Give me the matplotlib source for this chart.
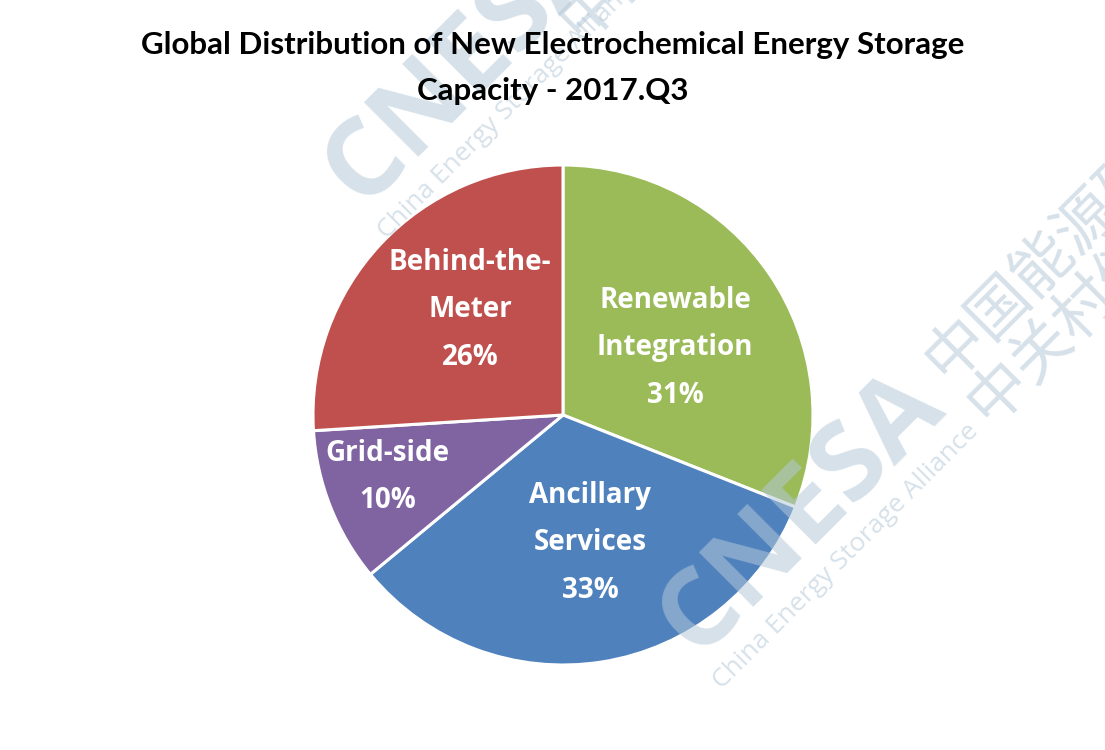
import matplotlib
matplotlib.use("Agg")
import matplotlib.pyplot as plt
import numpy as np

categories = ["Renewable\nIntegration", "Ancillary\nServices", "Grid-side", "Behind-the-\nMeter"]
values = [31, 33, 10, 26]
colors = ["#9BBB59", "#4F81BD", "#8064A2", "#C0504D"]
title = "Global Distribution of New Electrochemical Energy Storage\nCapacity - 2017.Q3"

W, H = 1105, 750
fig = plt.figure(figsize=(W / 100, H / 100), dpi=100)
ax = fig.add_axes([313 / W, 85 / H, 500 / W, 500 / H])
wedges, _ = ax.pie(values, colors=colors, startangle=90, counterclock=False,
                   wedgeprops=dict(edgecolor="white", linewidth=2.2), radius=1.0)
ax.set_xlim(-1, 1)
ax.set_ylim(-1, 1)
ax.set_aspect("equal")
ax.axis("off")

# label placement (distance from centre, angular nudge in degrees)
label_dist = [0.522, 0.523, 0.743, 0.561]
label_nudge = [-3.3, 2.9, -2.1, -5.3]
for w, cat, v, d, nd in zip(wedges, categories, values, label_dist, label_nudge):
    ang = np.deg2rad((w.theta1 + w.theta2) / 2 + nd)
    ax.text(d * np.cos(ang), d * np.sin(ang), f"{cat}\n{v}%", ha="center", va="center",
            color="white", fontsize=20, fontweight="bold", family="Open Sans",
            linespacing=1.85, zorder=5)

fig.text(553 / W, 1 - 68 / H, title, ha="center", va="center", fontsize=22.5,
         fontweight="bold", family="Lato", linespacing=1.8, zorder=20)

# watermarks
wm_color = "#B4C8D8"
def wm(s, x, y, size, weight="normal", family="Open Sans", ha="center", alpha=0.55):
    fig.text(x / W, 1 - y / H, s, rotation=45, rotation_mode="anchor", ha=ha, va="center",
             fontsize=size, fontweight=weight, family=[family, "Noto Sans CJK SC"],
             color=wm_color, alpha=alpha, zorder=10)

for dx, dy in [(0, 0), (-335, -450)]:
    wm("CNESA", 802 + dx, 513 + dy, 78, weight="bold")
    wm("China Energy Storage Alliance", 846 + dx, 556 + dy, 19)
wm("中国能源研究会储能专委会", 934, 370, 44, family="Noto Sans CJK SC", ha="left")
wm("中关村储能产业技术联盟", 977, 414, 44, family="Noto Sans CJK SC", ha="left")
wm("中国能源研究会储能专委会", 568, 30, 44, family="Noto Sans CJK SC", ha="left")

fig.savefig("out.png", dpi=100, facecolor="white")
